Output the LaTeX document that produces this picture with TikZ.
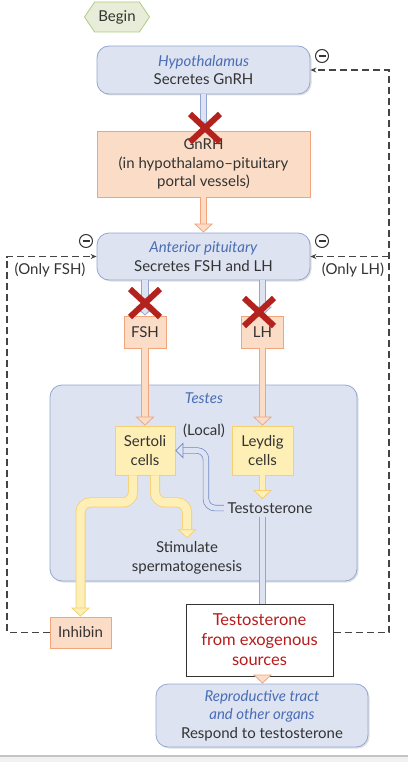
\documentclass[tikz,border=0pt]{standalone}
\usepackage{fontspec}
\setmainfont{Lato}
\usetikzlibrary{positioning, arrows.meta, shapes.symbols, shadows, calc}

\definecolor{bluefill}{HTML}{DDE3F1}
\definecolor{blueline}{HTML}{93A6D3}
\definecolor{bluetext}{HTML}{4A6DB5}
\definecolor{localblue}{HTML}{6F88C6}
\definecolor{peachfill}{HTML}{FBDCC6}
\definecolor{peachline}{HTML}{F2A57A}
\definecolor{yellowfill}{HTML}{FDEFB6}
\definecolor{yellowline}{HTML}{F5CF72}
\definecolor{greenfill}{HTML}{E7EDD8}
\definecolor{greenline}{HTML}{AFCB82}
\definecolor{textgray}{HTML}{333333}
\definecolor{dashgray}{HTML}{444444}
\definecolor{xred}{HTML}{B3221C}
\definecolor{exored}{HTML}{B71C1C}
\definecolor{bandgray}{HTML}{F1F1F1}
\definecolor{rulegray}{HTML}{C2C5C8}

\tikzset{
  organ/.style={draw=blueline, fill=bluefill, rounded corners=12pt, align=center, line width=0.8pt,
    drop shadow={shadow xshift=1.5pt, shadow yshift=-1.5pt, opacity=0.25}},
  hormone/.style={draw=peachline, fill=peachfill, align=center, line width=0.8pt},
  cellbox/.style={draw=yellowline, fill=yellowfill, align=center, line width=0.8pt},
  startbox/.style={signal, signal to=west and east, signal pointer angle=112, draw=greenline, fill=greenfill,
    line width=0.8pt, minimum width=65pt, minimum height=30pt, inner xsep=0pt},
  exobox/.style={draw=textgray, fill=white, align=center, line width=1pt, text=exored,
    font=\fontsize{16.5}{20}\selectfont},
  minus/.style={circle, draw=textgray, line width=1pt, minimum size=13pt, inner sep=0pt},
  tube/.style 2 args={draw=#1, double=#2, double distance=5.7pt, line width=0.8pt},
  widetube/.style 2 args={draw=#1, double=#2, double distance=8.4pt, line width=0.8pt, rounded corners=10pt},
  tubetip/.style 2 args={-{Triangle[length=9pt, width=19pt, line width=0.8pt 0 0, color=#1, fill=#2]}},
  feedback/.style={draw=dashgray, line width=1.4pt, dash pattern=on 7pt off 4pt,
    -{Stealth[length=6pt, width=5pt]}},
  xmark/.style={draw=xred, line width=6pt},
  title/.style={text=bluetext, font=\fontsize{15}{18.5}\itshape}
}

\begin{document}
\begin{tikzpicture}[x=1pt, y=-1pt, font=\fontsize{15}{18.5}\selectfont, text=textgray]
  \useasboundingbox (0,0) rectangle (408,762);

  % page band at the bottom
  \fill[bandgray] (0,756) rectangle (408,762);
  \draw[rulegray, line width=2pt] (0,756) -- (408,756);

  % trunks of the feedback loops
  \coordinate (ltrunk) at (7,0);
  \coordinate (rtrunk) at (389,0);

  % boxes
  \node[startbox] (begin) at (117,17) {Begin};
  \node[organ, minimum width=213pt, minimum height=48pt] (hypo) at (203.5,70)
    {\textcolor{bluetext}{\textit{Hypothalamus}}\\Secretes GnRH};
  \node[hormone, minimum width=213pt, minimum height=66pt] (gnrh) at (203.5,164)
    {GnRH\\(in hypothalamo–pituitary\\portal vessels)};
  \node[organ, minimum width=213pt, minimum height=47pt] (antpit) at (203.5,256.5)
    {\textcolor{bluetext}{\textit{Anterior pituitary}}\\Secretes FSH and LH};
  \node[hormone, minimum width=42pt, minimum height=32pt] (fsh) at (145,332) {FSH};
  \node[hormone, minimum width=42pt, minimum height=32pt] (lh) at (262.5,332) {LH};

  % testes
  \node[organ, minimum width=307pt, minimum height=196pt] (testes) at (203.5,483) {};
  \node[title] (testes_t) at (204,398) {Testes};
  \node[cellbox, minimum width=60pt, minimum height=49pt] (sertoli) at (145,450.5) {Sertoli\\cells};
  \node[cellbox, minimum width=61pt, minimum height=49pt] (leydig) at (262.5,450.5) {Leydig\\cells};
  \node (local) at (204,431) {(Local)};
  \node (testo) at (270,508) {Testosterone};
  \node[align=center] (sperm) at (187,558) {Stimulate\\spermatogenesis};

  \node[hormone, minimum width=61pt, minimum height=31pt] (inhibin) at (80.5,632.5) {Inhibin};
  \node[exobox, minimum width=147pt, minimum height=72pt] (exo) at (259.5,640)
    {Testosterone\\from exogenous\\sources};
  \node[organ, minimum width=212pt, minimum height=63pt] (repro) at (262,715.5)
    {\textcolor{bluetext}{\textit{Reproductive tract}}\\\textcolor{bluetext}{\textit{and other organs}}\\Respond to testosterone};

  % hormone flow
  \draw[tube={blueline}{bluefill}, tubetip={blueline}{bluefill}] (hypo.south) -- (gnrh.north);
  \draw[tube={peachline}{peachfill}, tubetip={peachline}{peachfill}] (gnrh.south) -- (antpit.north);
  \draw[tube={blueline}{bluefill}, tubetip={blueline}{bluefill}] (antpit.south -| fsh.north) -- (fsh.north);
  \draw[tube={blueline}{bluefill}, tubetip={blueline}{bluefill}] (antpit.south -| lh.north) -- (lh.north);
  \draw[tube={peachline}{peachfill}, tubetip={peachline}{peachfill}] (fsh.south) -- (sertoli.north);
  \draw[tube={peachline}{peachfill}, tubetip={peachline}{peachfill}] (lh.south) -- (leydig.north);
  \draw[tube={yellowline}{yellowfill}, tubetip={yellowline}{yellowfill}] (leydig.south) -- (leydig.south |- testo.north);
  \draw[tube={blueline}{bluefill}] (leydig.south |- testo.south) -- (leydig.south |- exo.north);
  \draw[tube={peachline}{peachfill}, tubetip={peachline}{peachfill}] (leydig.south |- exo.south) -- (leydig.south |- repro.north);

  % sertoli outputs
  \draw[widetube={yellowline}{yellowfill}, tubetip={yellowline}{yellowfill}]
    ($(sertoli.south)+(-12,0)$) -- ++(0,27) -| (inhibin.north);
  \draw[widetube={yellowline}{yellowfill}, tubetip={yellowline}{yellowfill}]
    ($(sertoli.south)+(10,0)$) -- ++(0,27) -| (sperm.north);

  % local action
  \draw[draw=localblue, double=bluefill, double distance=5pt, line width=0.7pt, rounded corners=9pt,
    -{Triangle[length=8pt, width=16pt, line width=0.7pt 0 0, fill=bluefill]}]
    (testo.west) -- ++(-18,0) |- (sertoli.east);

  % blocked steps
  \foreach \cx/\cy in {205/128, 145/303, 259/312}
    \draw[xmark] (\cx-15,\cy-14) -- (\cx+15,\cy+14) (\cx-15,\cy+14) -- (\cx+15,\cy-14);

  % negative feedback
  \draw[feedback] (exo.east |- inhibin.east) -| (hypo.east -| rtrunk) -- (hypo.east);
  \draw[feedback] (antpit.east -| rtrunk) -- (antpit.east);
  \draw[feedback] (inhibin.west) -| (antpit.west -| ltrunk) -- (antpit.west);

  \node[minus] (m_hypo) at (322,56) {\rule{7pt}{1.8pt}};
  \node[minus] (m_fsh) at (86,241) {\rule{7pt}{1.8pt}};
  \node[minus] (m_lh) at (322,241) {\rule{7pt}{1.8pt}};
  \node (only_fsh) at (50,270) {(Only FSH)};
  \node (only_lh) at (353,270) {(Only LH)};
\end{tikzpicture}
\end{document}
